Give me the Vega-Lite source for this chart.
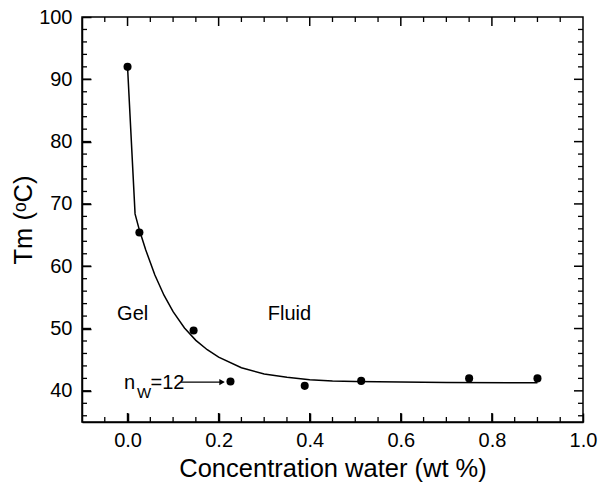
{
  "$schema": "https://vega.github.io/schema/vega-lite/v6.json",
  "width": 501,
  "height": 405,
  "autosize": "none",
  "padding": {"left": 82, "top": 17, "right": 16, "bottom": 68},
  "background": "white",
  "config": {
    "view": {"stroke": "black", "strokeWidth": 1.5},
    "font": "Liberation Sans",
    "axis": {
      "grid": false,
      "labelFont": "Liberation Sans",
      "labelFontSize": 20,
      "labelColor": "black",
      "titleFontSize": 25.5,
      "titleFontWeight": "normal",
      "titleColor": "black"
    }
  },
  "datasets": {
    "curve": [
      {"x": 0.0, "y": 92.0},
      {"x": 0.0165, "y": 68.4},
      {"x": 0.026, "y": 65.8},
      {"x": 0.04, "y": 62.6},
      {"x": 0.06, "y": 58.6},
      {"x": 0.08, "y": 55.35},
      {"x": 0.1, "y": 52.7},
      {"x": 0.125, "y": 50.1},
      {"x": 0.15, "y": 48.1},
      {"x": 0.175, "y": 46.6},
      {"x": 0.2, "y": 45.4},
      {"x": 0.25, "y": 43.7},
      {"x": 0.3, "y": 42.7},
      {"x": 0.35, "y": 42.2},
      {"x": 0.4, "y": 41.8},
      {"x": 0.45, "y": 41.6},
      {"x": 0.5, "y": 41.5},
      {"x": 0.6, "y": 41.4},
      {"x": 0.7, "y": 41.35},
      {"x": 0.9, "y": 41.3}
    ],
    "points": [
      {"x": 0.0, "y": 92.0},
      {"x": 0.026, "y": 65.4},
      {"x": 0.145, "y": 49.7},
      {"x": 0.226, "y": 41.5},
      {"x": 0.389, "y": 40.8},
      {"x": 0.513, "y": 41.6},
      {"x": 0.75, "y": 42.0},
      {"x": 0.9, "y": 42.0}
    ],
    "labels": [
      {"x": -0.008, "y": 40.35, "text": "n", "size": 20},
      {"x": 0.0205, "y": 38.9, "text": "W", "size": 15},
      {"x": 0.0505, "y": 40.35, "text": "=12", "size": 20},
      {"x": -0.023, "y": 51.45, "text": "Gel", "size": 20},
      {"x": 0.308, "y": 51.45, "text": "Fluid", "size": 20}
    ],
    "arrow": [
      {"x": 0.1175, "y": 41.4},
      {"x": 0.21, "y": 41.4}
    ],
    "arrowhead": [
      {"x": 0.2075, "y": 41.4}
    ],
    "xmajor": [{"v": 0}, {"v": 0.2}, {"v": 0.4}, {"v": 0.6}, {"v": 0.8}],
    "xminor": [{"v": -0.05}, {"v": 0.05}, {"v": 0.1}, {"v": 0.15}, {"v": 0.25}, {"v": 0.3}, {"v": 0.35}, {"v": 0.45}, {"v": 0.5}, {"v": 0.55}, {"v": 0.65}, {"v": 0.7}, {"v": 0.75}, {"v": 0.85}, {"v": 0.9}, {"v": 0.95}],
    "ymajor": [{"v": 40}, {"v": 50}, {"v": 60}, {"v": 70}, {"v": 80}, {"v": 90}],
    "yminor": [{"v": 36}, {"v": 38}, {"v": 42}, {"v": 44}, {"v": 46}, {"v": 48}, {"v": 52}, {"v": 54}, {"v": 56}, {"v": 58}, {"v": 62}, {"v": 64}, {"v": 66}, {"v": 68}, {"v": 72}, {"v": 74}, {"v": 76}, {"v": 78}, {"v": 82}, {"v": 84}, {"v": 86}, {"v": 88}, {"v": 92}, {"v": 94}, {"v": 96}, {"v": 98}]
  },
  "layer": [
    {
      "data": {"name": "curve"},
      "mark": {"type": "line", "color": "black", "strokeWidth": 1.5},
      "encoding": {
        "x": {
          "field": "x", "type": "quantitative",
          "scale": {"domain": [-0.1, 1.0], "nice": false, "zero": false},
          "axis": {
            "orient": "bottom",
            "title": "Concentration water (wt %)",
            "tickCount": 5,
            "format": ".1f",
            "tickColor": "black", "tickWidth": 1.5, "tickSize": -9,
            "domainColor": "black", "domainWidth": 1.5,
            "labelFlush": false,
            "labelPadding": 17,
            "titlePadding": 6
          }
        },
        "y": {
          "field": "y", "type": "quantitative",
          "scale": {"domain": [35, 100], "nice": false, "zero": false},
          "axis": {
            "orient": "left",
            "title": "Tm (ᵒC)",
            "tickCount": 6,
            "format": "d",
            "tickColor": "black", "tickWidth": 1.5, "tickSize": -9,
            "domainColor": "black", "domainWidth": 1.5,
            "labelFlush": false,
            "labelPadding": 19,
            "titlePadding": 2
          }
        }
      }
    },
    {
      "data": {"name": "xmajor"},
      "mark": {"type": "tick", "orient": "vertical", "size": 18, "thickness": 1.5, "color": "black", "opacity": 1, "clip": true},
      "encoding": {
        "x": {"field": "v", "type": "quantitative", "axis": null},
        "y": {"datum": 35, "type": "quantitative", "axis": null}
      }
    },
    {
      "data": {"name": "xmajor"},
      "mark": {"type": "tick", "orient": "vertical", "size": 18, "thickness": 1.5, "color": "black", "opacity": 1, "clip": true},
      "encoding": {
        "x": {"field": "v", "type": "quantitative", "axis": null},
        "y": {"datum": 100, "type": "quantitative", "axis": null}
      }
    },
    {
      "data": {"name": "xminor"},
      "mark": {"type": "tick", "orient": "vertical", "size": 10, "thickness": 1.3, "color": "black", "opacity": 1, "clip": true},
      "encoding": {
        "x": {"field": "v", "type": "quantitative", "axis": null},
        "y": {"datum": 35, "type": "quantitative", "axis": null}
      }
    },
    {
      "data": {"name": "xminor"},
      "mark": {"type": "tick", "orient": "vertical", "size": 10, "thickness": 1.3, "color": "black", "opacity": 1, "clip": true},
      "encoding": {
        "x": {"field": "v", "type": "quantitative", "axis": null},
        "y": {"datum": 100, "type": "quantitative", "axis": null}
      }
    },
    {
      "data": {"name": "ymajor"},
      "mark": {"type": "tick", "orient": "horizontal", "size": 18, "thickness": 1.5, "color": "black", "opacity": 1, "clip": true},
      "encoding": {
        "y": {"field": "v", "type": "quantitative", "axis": null},
        "x": {"datum": -0.1, "type": "quantitative", "axis": null}
      }
    },
    {
      "data": {"name": "ymajor"},
      "mark": {"type": "tick", "orient": "horizontal", "size": 18, "thickness": 1.5, "color": "black", "opacity": 1, "clip": true},
      "encoding": {
        "y": {"field": "v", "type": "quantitative", "axis": null},
        "x": {"datum": 1.0, "type": "quantitative", "axis": null}
      }
    },
    {
      "data": {"name": "yminor"},
      "mark": {"type": "tick", "orient": "horizontal", "size": 10, "thickness": 1.3, "color": "black", "opacity": 1, "clip": true},
      "encoding": {
        "y": {"field": "v", "type": "quantitative", "axis": null},
        "x": {"datum": -0.1, "type": "quantitative", "axis": null}
      }
    },
    {
      "data": {"name": "yminor"},
      "mark": {"type": "tick", "orient": "horizontal", "size": 10, "thickness": 1.3, "color": "black", "opacity": 1, "clip": true},
      "encoding": {
        "y": {"field": "v", "type": "quantitative", "axis": null},
        "x": {"datum": 1.0, "type": "quantitative", "axis": null}
      }
    },
    {
      "data": {"name": "points"},
      "mark": {"type": "point", "filled": true, "color": "black", "size": 65, "opacity": 1},
      "encoding": {
        "x": {"field": "x", "type": "quantitative", "axis": null},
        "y": {"field": "y", "type": "quantitative", "axis": null}
      }
    },
    {
      "data": {"name": "arrow"},
      "mark": {"type": "line", "color": "black", "strokeWidth": 1.2},
      "encoding": {
        "x": {"field": "x", "type": "quantitative", "axis": null},
        "y": {"field": "y", "type": "quantitative", "axis": null}
      }
    },
    {
      "data": {"name": "arrowhead"},
      "mark": {"type": "point", "shape": "triangle-right", "filled": true, "color": "black", "size": 40, "opacity": 1},
      "encoding": {
        "x": {"field": "x", "type": "quantitative", "axis": null},
        "y": {"field": "y", "type": "quantitative", "axis": null}
      }
    },
    {
      "data": {"name": "labels"},
      "mark": {"type": "text", "align": "left", "baseline": "alphabetic", "color": "black", "font": "Liberation Sans"},
      "encoding": {
        "x": {"field": "x", "type": "quantitative", "axis": null},
        "y": {"field": "y", "type": "quantitative", "axis": null},
        "text": {"field": "text"},
        "size": {"field": "size", "type": "quantitative", "scale": null, "legend": null}
      }
    }
  ],
  "resolve": {"axis": {"x": "independent", "y": "independent"}}
}
